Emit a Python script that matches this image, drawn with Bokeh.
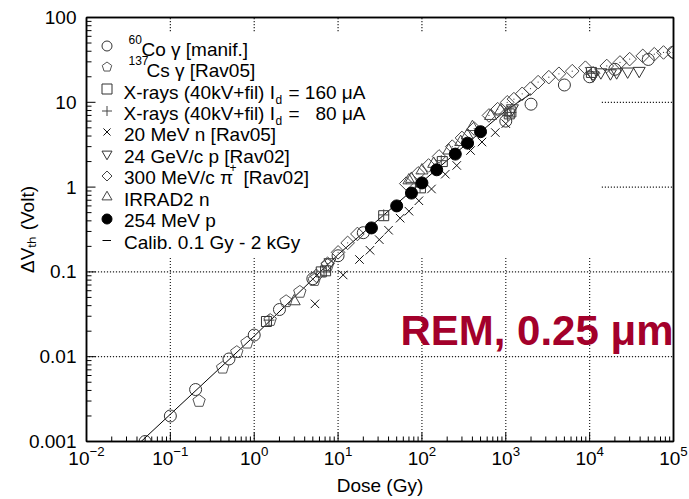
import math
from bokeh.plotting import figure
from bokeh.models import Label, Legend, LegendItem, FixedTicker, Range1d, LogAxis
from bokeh.core.properties import value
from bokeh.embed import file_html
from bokeh.resources import INLINE

# ---------------- data (Dose in Gy, Delta Vth in Volt) ----------------
co60_dose = [0.05, 0.1, 0.2, 0.5, 1.0, 2.0, 5.0, 10.0, 20.0, 1000.0, 2000.0, 5000.0, 1.0e4, 2.0e4, 5.0e4, 1.0e5]
co60_dvth = [0.001, 0.002, 0.0041, 0.0094, 0.018, 0.036, 0.083, 0.155, 0.29, 6.0, 9.5, 16.0, 20.0, 24.5, 32.0, 39.0]

cs137_dose = [0.22, 0.42, 0.62, 0.82, 1.55, 2.4, 3.5, 5.2, 7.5]
cs137_dvth = [0.003, 0.0074, 0.0113, 0.0146, 0.027, 0.045, 0.058, 0.08, 0.12]

xr160_dose = [1.4, 6.3, 7.1, 35.0, 96.0, 175.0, 1100.0, 1150.0, 1.05e4]
xr160_dvth = [0.026, 0.1, 0.103, 0.46, 0.98, 2.0, 7.3, 7.7, 22.5]

xr80_dose = [1.5, 6.8, 35.0, 95.0, 170.0, 1050.0, 1150.0, 1.05e4]
xr80_dvth = [0.027, 0.1, 0.47, 1.0, 2.05, 7.0, 7.6, 22.0]

n20_dose = [5.3, 11.5, 18.0, 24.0, 31.0, 40.0, 55.0, 70.0, 92.0, 130.0, 190.0, 260.0, 380.0, 520.0, 750.0, 1000.0]
n20_dvth = [0.042, 0.092, 0.14, 0.18, 0.24, 0.31, 0.43, 0.52, 0.69, 0.95, 1.42, 1.8, 2.7, 3.4, 4.4, 5.6]

p24_dose = [8.0, 1200.0, 1.1e4, 1.36e4, 1.77e4, 2.1e4, 2.84e4, 3.9e4]
p24_dvth = [0.13, 8.5, 20.8, 22.6, 22.0, 22.6, 23.1, 23.5]

pi300_dose = [5.5, 7.5, 10.0, 13.0, 17.0, 65.0, 90.0, 120.0, 160.0, 230.0, 300.0, 420.0, 630.0, 800.0,
              1040.0, 1250.0, 1570.0, 1970.0, 2430.0, 3260.0, 4300.0, 6200.0, 8900.0, 1.1e4, 1.6e4,
              2.3e4, 3.0e4, 4.3e4, 5.9e4, 7.6e4, 9.9e4]
pi300_dvth = [0.09, 0.125, 0.17, 0.22, 0.28, 1.1, 1.45, 1.8, 2.3, 3.0, 3.8, 4.9, 7.0, 8.3,
              10.0, 10.9, 12.6, 14.5, 17.3, 19.8, 21.7, 23.3, 25.6, 22.0, 26.8,
              29.5, 32.3, 35.3, 36.9, 38.7, 38.7]

irrad2_dose = [3.0, 70.0, 75.0, 100.0, 138.0, 209.0, 290.0, 347.0, 400.0, 658.0, 865.0]
irrad2_dvth = [0.045, 1.2, 1.25, 1.57, 1.88, 2.7, 3.4, 4.06, 5.1, 6.9, 8.0]

p254_dose = [25.0, 50.0, 75.0, 100.0, 150.0, 250.0, 350.0, 500.0]
p254_dvth = [0.33, 0.6, 0.85, 1.12, 1.6, 2.45, 3.3, 4.5]

calib_dose = [0.04, 1.0, 10.0, 100.0, 1000.0, 2000.0]
calib_dvth = [0.0009, 0.0175, 0.16, 1.15, 8.0, 12.6]

x_ticks = [0.01, 0.1, 1.0, 10.0, 100.0, 1000.0, 10000.0, 100000.0]
y_ticks = [0.001, 0.01, 0.1, 1.0, 10.0, 100.0]
y_tick_labels = ["0.001", "0.01", "0.1", "1", "10", "100"]

legend_rows = [
    [("60", "sup"), ("Co γ [manif.]", "main")],
    [("137", "sup"), ("Cs γ [Rav05]", "main")],
    [("X-rays (40kV+fil) I", "main"), ("d", "sub"), ("= 160 μA", "main")],
    [("X-rays (40kV+fil) I", "main"), ("d", "sub"), ("=", "main"), ("80 μA", "main")],
    [("20 MeV n [Rav05]", "main")],
    [("24 GeV/c p [Rav02]", "main")],
    [("300 MeV/c π", "main"), ("+", "sup"), ("[Rav02]", "main")],
    [("IRRAD2 n", "main")],
    [("254 MeV p", "main")],
    [("Calib. 0.1 Gy - 2 kGy", "main")],
]
annotation_text = "REM, 0.25 μm"
x_title = "Dose (Gy)"
y_title = "ΔVₜₕ (Volt)"

# ---------------- layout constants (window px) ----------------
FL, FR, FT, FB = 86, 673, 17, 441   # frame edges in the window
PX_DEC_X = (FR - FL) / 7.0          # pixels per decade
PX_DEC_Y = (FB - FT) / 5.0
FONT = "Liberation Sans"
piece_x = [
    [128.0, 141.0],
    [128.0, 146.0],
    [123.0, 275.0, 288.0],
    [123.0, 275.0, 288.0, 315.0],
    [123.5], [123.5],
    [123.5, 229.0, 243.0],
    [123.5], [123.5], [123.5],
]
# region hidden by the opaque key box of the original (grid not drawn there)
KEY_RIGHT, KEY_BOTTOM, KEY_TOP = 1.42e4, 0.148, 70.0

p = figure(width=689, height=499, x_axis_type="log", y_axis_type="log",
           x_range=Range1d(1e-2, 1e5), y_range=Range1d(1e-3, 1e2),
           output_backend="svg", toolbar_location=None,
           min_border_left=FL, min_border_right=689 - FR, min_border_top=FT,
           min_border_bottom=499 - FB,
           background_fill_color="white", background_fill_alpha=0,
           border_fill_color="white")

x_minor = [m * t for t in x_ticks[:-1] for m in range(2, 10)]
y_minor = [m * t for t in y_ticks[:-1] for m in range(2, 10)]
p.xaxis.ticker = FixedTicker(ticks=x_ticks, minor_ticks=x_minor)
p.yaxis.ticker = FixedTicker(ticks=y_ticks, minor_ticks=y_minor)
p.yaxis.major_label_overrides = dict(zip(y_ticks, y_tick_labels))

for ax in (p.xaxis, p.yaxis):
    ax.major_tick_in = 0
    ax.major_tick_out = 0
    ax.minor_tick_in = 0
    ax.minor_tick_out = 0
    ax.axis_line_width = 1.5
    ax.axis_line_color = "black"
    ax.major_label_text_font = FONT
    ax.major_label_text_font_size = "19px"
    ax.major_label_text_color = "black"
    ax.axis_label_text_font = FONT
    ax.axis_label_text_font_size = "19px"
    ax.axis_label_text_font_style = "normal"
    ax.axis_label_text_color = "black"
p.xaxis.major_label_standoff = 4
p.yaxis.major_label_standoff = 10
p.xaxis.axis_label = x_title
p.xaxis.axis_label_standoff = 7
p.yaxis.axis_label = y_title
p.yaxis.axis_label_standoff = -12

# plain top / right frame edges
for side in ("above", "right"):
    edge = LogAxis(ticker=FixedTicker(ticks=[]), major_tick_in=0, major_tick_out=0,
                   minor_tick_in=0, minor_tick_out=0, major_label_text_font_size="0px",
                   axis_line_width=1.5, axis_line_color="black", major_label_standoff=0)
    p.add_layout(edge, side)

p.outline_line_color = "black"
p.outline_line_width = 1.5
p.grid.visible = False

# ---------------- dotted decade grid (dots every 3 px) ----------------
gx, gy = [], []
for t in x_ticks[1:-1]:
    spans = [(y_ticks[0], KEY_BOTTOM), (KEY_TOP, y_ticks[-1])] if t < KEY_RIGHT else [(y_ticks[0], y_ticks[-1])]
    for lo, hi in spans:
        n = int(math.log10(hi / lo) * PX_DEC_Y / 3)
        for k in range(n + 1):
            gx.append(t); gy.append(lo * 10 ** (3 * k / PX_DEC_Y))
for t in y_ticks[1:-1]:
    lo = x_ticks[0] if (t < KEY_BOTTOM or t > KEY_TOP) else KEY_RIGHT
    hi = x_ticks[-1]
    n = int(math.log10(hi / lo) * PX_DEC_X / 3)
    for k in range(n + 1):
        gx.append(lo * 10 ** (3 * k / PX_DEC_X)); gy.append(t)
p.scatter(gx, gy, marker="square", size=1.2, fill_color="#222222", line_alpha=0, level="underlay")

# ---------------- inward ticks on bottom and left edges ----------------
tx0, ty0, tx1, ty1 = [], [], [], []
for t, L in [(t, 9) for t in x_ticks[1:-1]] + [(t, 5) for t in x_minor]:
    tx0.append(t); tx1.append(t); ty0.append(y_ticks[0]); ty1.append(y_ticks[0] * 10 ** (L / PX_DEC_Y))
for t, L in [(t, 9) for t in y_ticks[1:-1]] + [(t, 5) for t in y_minor]:
    ty0.append(t); ty1.append(t); tx0.append(x_ticks[0]); tx1.append(x_ticks[0] * 10 ** (L / PX_DEC_X))
p.segment(tx0, ty0, tx1, ty1, line_color="black", line_width=1)

# ---------------- series ----------------
r_calib = p.line(calib_dose, calib_dvth, line_color="black", line_width=1)

r_co = p.scatter(co60_dose, co60_dvth, marker="circle", size=12, fill_alpha=0,
                 line_color="#333333", line_width=1)
try:
    r_cs = p.ngon(cs137_dose, cs137_dvth, radius=6.5, radius_units="screen", n=5,
                  fill_alpha=0, line_color="#555555", line_width=1)
except Exception:
    r_cs = p.scatter(cs137_dose, cs137_dvth, marker="hex", size=12, fill_alpha=0,
                     line_color="#555555", line_width=1)
r_x160 = p.scatter(xr160_dose, xr160_dvth, marker="square", size=10, fill_alpha=0,
                   line_color="#333333", line_width=1)
r_x80 = p.scatter(xr80_dose, xr80_dvth, marker="cross", size=11, line_color="#444444", line_width=1)
r_n20 = p.scatter(n20_dose, n20_dvth, marker="x", size=12, line_color="#111111", line_width=1)
r_p24 = p.scatter(p24_dose, p24_dvth, marker="inverted_triangle", size=12, fill_alpha=0,
                  line_color="#333333", line_width=1)
try:
    r_pi = p.ngon(pi300_dose, pi300_dvth, radius=6.8, radius_units="screen", n=4,
                  fill_alpha=0, line_color="#444444", line_width=1)
    p.scatter(pi300_dose, pi300_dvth, marker="dot", size=5, line_color="#444444")
except Exception:
    r_pi = p.scatter(pi300_dose, pi300_dvth, marker="diamond_dot", size=14, fill_alpha=0,
                     line_color="#444444", line_width=1)
r_ir = p.scatter(irrad2_dose, irrad2_dvth, marker="triangle", size=12, fill_alpha=0,
                 line_color="#444444", line_width=1)
r_p254 = p.scatter(p254_dose, p254_dvth, marker="circle", size=12, fill_color="black",
                   line_color="black")

marker_renderers = [r_co, r_cs, r_x160, r_x80, r_n20, r_p24, r_pi, r_ir, r_p254]

ROW0, PITCH, GX = 45.0, 21.67, 106.0
common = dict(label_width=0, label_height=10, label_standoff=0, spacing=0, padding=0, margin=0,
              border_line_alpha=0, background_fill_alpha=0, label_text_font_size="8px")
for i, r in enumerate(marker_renderers):
    cy = ROW0 + PITCH * i
    p.add_layout(Legend(items=[LegendItem(label=value(""), renderers=[r])],
                        location=(GX - 12.5 - FL, FB - (cy + 12.5)),
                        glyph_width=25, glyph_height=25, **common))
cy = ROW0 + PITCH * 9
p.add_layout(Legend(items=[LegendItem(label=value(""), renderers=[r_calib])],
                    location=(GX - 4.5 - FL, FB - (cy + 10)),
                    glyph_width=9, glyph_height=20, **common))


def add_label(text, wx, baseline, size=19, **kw):
    # text is centred vertically; shift so that its baseline lands on `baseline`
    p.add_layout(Label(x=wx - FL, y=FB - (baseline - 0.346 * size), x_units="screen", y_units="screen",
                       text=text, text_font=FONT, text_font_size=f"{size}px", text_baseline="middle",
                       text_color=kw.pop("color", "black"), **kw))


for i, row in enumerate(legend_rows):
    base = 55.3 + 21.44 * i
    for (txt, kind), wx in zip(row, piece_x[i]):
        if kind == "main":
            add_label(txt, wx, base)
        elif kind == "sup":
            add_label(txt, wx, base - 12.5, size=12)
        else:
            add_label(txt, wx, base + 5, size=12)

# big annotation
add_label(annotation_text, FR, 345, size=42, text_align="right",
          text_font_style="bold", color="#A3002B")

open("out.html", "w").write(file_html(p, INLINE))
